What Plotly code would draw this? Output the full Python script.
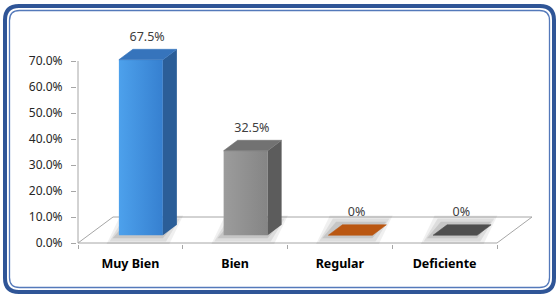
import plotly.graph_objects as go

# ---------------- data ----------------
categories = ["Muy Bien", "Bien", "Regular", "Deficiente"]
values = [0.675, 0.325, 0.0, 0.0]
value_labels = ["67.5%", "32.5%", "0%", "0%"]
y_tick_values = [0.0, 0.1, 0.2, 0.3, 0.4, 0.5, 0.6, 0.7]

# ---------------- styles ----------------
front_light = ["#4DA1EC", "#9C9C9C", "#C05A14", "#555555"]
front_dark = ["#3680D0", "#858585", "#A84C0E", "#474747"]
side_colors = ["#2B5E98", "#5C5C5C", "#8A3F0C", "#3A3A3A"]
top_colors = ["#3674BC", "#727272", "#BA5712", "#4F4F4F"]
FONT = "Noto Sans"
GRID = "#A6A6A6"

# ---------------- geometry (pixels -> axis units) ----------------
FIG_W, FIG_H = 558, 296
PL, PR, PT, PB = 77, 544, 20, 244          # plot area in pixels
PXU = 104.75                               # px per category unit
PXV = 260.0                                # px per 1.0 (100%)
XMIN = -0.5 - 1 / PXU
XMAX = XMIN + (PR - PL) / PXU
YMIN = -1 / PXV
YMAX = YMIN + (PB - PT) / PXV
DX = 35 / PXU      # full floor depth, x shift
DY = 0.10          # full floor depth, y shift
D0, DD = 0.3, 0.4  # bar depth start / depth
BW = 0.42          # bar width


def px2paper(px, py):
    return (px - PL) / (PR - PL), (PB - py) / (PB - PT)


def rounded_path(x0, y0, x1, y1, r):
    pts = [("M", [(x0 + r, y0)]), ("L", [(x1 - r, y0)]), ("Q", [(x1, y0), (x1, y0 + r)]),
           ("L", [(x1, y1 - r)]), ("Q", [(x1, y1), (x1 - r, y1)]), ("L", [(x0 + r, y1)]),
           ("Q", [(x0, y1), (x0, y1 - r)]), ("L", [(x0, y0 + r)]), ("Q", [(x0, y0), (x0 + r, y0)])]
    s = ""
    for cmd, ps in pts:
        s += cmd + " " + " ".join("%.5f,%.5f" % px2paper(a, b) for a, b in ps) + " "
    return s + "Z"


fig = go.Figure()

# floor
n = len(categories)
fx = [-0.5, n - 0.5, n - 0.5 + DX, -0.5 + DX, -0.5]
fy = [0, 0, DY, DY, 0]
fig.add_trace(go.Scatter(x=fx, y=fy, mode="lines", fill="toself", fillcolor="white",
                         line=dict(color=GRID, width=1), hoverinfo="skip", showlegend=False))
# value axis line
fig.add_trace(go.Scatter(x=[-0.5, -0.5], y=[0, y_tick_values[-1]], mode="lines",
                         line=dict(color=GRID, width=1), hoverinfo="skip", showlegend=False))

for i, v in enumerate(values):
    x0 = i - BW / 2 + D0 * DX
    x1 = x0 + BW
    yb = D0 * DY
    yt = yb + v
    ddx, ddy = DD * DX, DD * DY
    # soft shadow around footprint
    for k, op in [(0.09, 0.06), (0.06, 0.08), (0.03, 0.10)]:
        ex, ey = k, k * 0.4
        sx = [x0 - ex - 0.03, x1 + ex - 0.03, x1 + ddx + ex - 0.03, x0 + ddx - ex - 0.03, x0 - ex - 0.03]
        sy = [yb - ey, yb - ey, yb + ddy + ey, yb + ddy + ey, yb - ey]
        fig.add_trace(go.Scatter(x=sx, y=sy, mode="lines", fill="toself",
                                 fillcolor="rgba(0,0,0,%.2f)" % op, line=dict(width=0),
                                 hoverinfo="skip", showlegend=False))
    if v > 0:
        # front face
        fig.add_trace(go.Scatter(x=[x0, x1, x1, x0, x0], y=[yb, yb, yt, yt, yb], mode="lines",
                                 fill="toself", line=dict(width=0),
                                 fillgradient=dict(type="horizontal",
                                                   colorscale=[[0, front_light[i]], [1, front_dark[i]]]),
                                 hoverinfo="skip", showlegend=False))
        # side face
        fig.add_trace(go.Scatter(x=[x1, x1 + ddx, x1 + ddx, x1, x1],
                                 y=[yb, yb + ddy, yt + ddy, yt, yb], mode="lines",
                                 fill="toself", fillcolor=side_colors[i], line=dict(width=0),
                                 hoverinfo="skip", showlegend=False))
    # top face
    fig.add_trace(go.Scatter(x=[x0, x1, x1 + ddx, x0 + ddx, x0],
                             y=[yt, yt, yt + ddy, yt + ddy, yt], mode="lines",
                             fill="toself", fillcolor=top_colors[i],
                             line=dict(width=0.6, color=top_colors[i]),
                             hoverinfo="skip", showlegend=False))

# data labels
fig.add_trace(go.Scatter(x=[i + 0.16 for i in range(n)], y=[v + 0.115 for v in values],
                         mode="text", text=value_labels,
                         textfont=dict(family=FONT, size=12.5, color="#404040"),
                         cliponaxis=False, hoverinfo="skip", showlegend=False))

fig.update_xaxes(range=[XMIN, XMAX], tickvals=list(range(n)), ticktext=categories,
                 showgrid=False, zeroline=False, showline=False, ticks="",
                 ticklabelstandoff=10,
                 tickfont=dict(family=FONT, size=12.5, color="#000000", weight="bold"),
                 minor=dict(tickvals=[i - 0.5 for i in range(n + 1)], ticks="outside",
                            ticklen=4, tickcolor=GRID, tickwidth=1, showgrid=False))
fig.update_yaxes(range=[YMIN, YMAX], tickvals=y_tick_values, tickformat=".1%",
                 showgrid=False, zeroline=False, showline=False,
                 ticks="outside", ticklen=5, tickcolor=GRID, ticklabelstandoff=6,
                 tickfont=dict(family=FONT, size=12, color="#262626"))

fig.update_layout(
    width=FIG_W, height=FIG_H,
    margin=dict(l=PL, r=FIG_W - PR, t=PT, b=FIG_H - PB),
    paper_bgcolor="white", plot_bgcolor="white",
    showlegend=False,
    shapes=[
        dict(type="path", xref="paper", yref="paper", path=rounded_path(5, 6, 554, 292, 14),
             line=dict(color="#2F5597", width=4), layer="above"),
        dict(type="path", xref="paper", yref="paper", path=rounded_path(9.5, 10.5, 549.5, 287.5, 10),
             line=dict(color="#5479BA", width=1.3), layer="above"),
    ],
)

fig.write_html("out.html")
